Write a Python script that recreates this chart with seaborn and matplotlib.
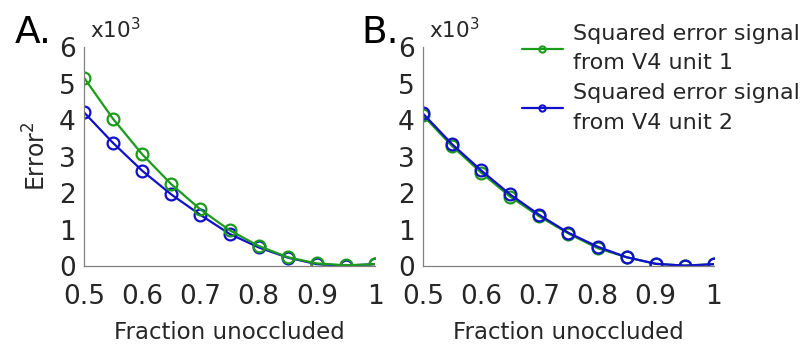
import matplotlib
matplotlib.use("Agg")
import matplotlib.pyplot as plt
from matplotlib.lines import Line2D
import pandas as pd
import seaborn as sns

# Fraction of the stimulus left unoccluded
fraction = [0.5, 0.55, 0.6, 0.65, 0.7, 0.75, 0.8, 0.85, 0.9, 0.95, 1.0]

# Squared error (x10^3), panel A
a_unit1 = [5.16, 4.03, 3.06, 2.24, 1.55, 0.98, 0.55, 0.24, 0.07, 0.02, 0.05]
a_unit2 = [4.21, 3.37, 2.61, 1.96, 1.40, 0.88, 0.51, 0.23, 0.05, 0.01, 0.05]

# Squared error (x10^3), panel B
b_unit1 = [4.13, 3.29, 2.56, 1.90, 1.36, 0.89, 0.49, 0.24, 0.06, 0.01, 0.05]
b_unit2 = [4.18, 3.34, 2.62, 1.96, 1.40, 0.91, 0.53, 0.24, 0.06, 0.01, 0.05]

x_tick_labels = ["0.5", "0.6", "0.7", "0.8", "0.9", "1"]
labels = ["Squared error signal\nfrom V4 unit 1", "Squared error signal\nfrom V4 unit 2"]
green = "#1c9a1c"
blue = "#0f0fcc"

sns.set_style("white")
plt.rcParams["font.family"] = ["DejaVu Sans"]
text_color = "#262626"


def long_frame(u1, u2):
    return pd.DataFrame({
        "fraction": fraction * 2,
        "error": u1 + u2,
        "unit": [labels[0]] * len(fraction) + [labels[1]] * len(fraction),
    })


fig = plt.figure(figsize=(8.04, 3.52), dpi=100)
ax_a = fig.add_axes([0.1045, 0.2443, 0.362, 0.622])
ax_b = fig.add_axes([0.526, 0.2443, 0.362, 0.622])

panels = [
    (ax_a, long_frame(a_unit1, a_unit2), [labels[1], labels[0]]),
    (ax_b, long_frame(b_unit1, b_unit2), [labels[0], labels[1]]),
]
palette = {labels[0]: green, labels[1]: blue}

for ax, df, order in panels:
    for lab in order:
        sub = df[df["unit"] == lab]
        sns.lineplot(data=sub, x="fraction", y="error", color=palette[lab],
                     marker="o", markersize=8.5, markerfacecolor="none",
                     markeredgecolor=palette[lab], markeredgewidth=1.6,
                     linewidth=1.6, ax=ax, legend=False)
    ax.set_xlim(0.5, 1.0)
    ax.set_ylim(0, 6)
    ax.set_xticks([0.5, 0.6, 0.7, 0.8, 0.9, 1.0])
    ax.set_xticklabels(x_tick_labels)
    ax.set_yticks([0, 1, 2, 3, 4, 5, 6])
    ax.tick_params(direction="in", length=3, width=0.8, color="#808080",
                   labelsize=19, labelcolor=text_color)
    ax.tick_params(axis="x", pad=13)
    ax.tick_params(axis="y", pad=6)
    for side in ("top", "right"):
        ax.spines[side].set_visible(False)
    for side in ("left", "bottom"):
        ax.spines[side].set_color("#808080")
        ax.spines[side].set_linewidth(0.9)
    ax.set_xlabel("Fraction unoccluded", fontsize=16.5, color=text_color, labelpad=8)
    ax.set_ylabel("")
    ax.text(0.02, 1.04, r"x10$^3$", transform=ax.transAxes, fontsize=15.5,
            color=text_color, ha="left", va="baseline")
    ax.patch.set_alpha(0)

ax_a.set_ylabel(r"Error$^2$", fontsize=17, color=text_color, labelpad=6)
fig.text(0.018, 0.878, "A.", fontsize=27, color="black", ha="left", va="baseline")
fig.text(0.450, 0.878, "B.", fontsize=27, color="black", ha="left", va="baseline")

handles = [
    Line2D([], [], color=green, linewidth=1.6, marker="o", markersize=4.5,
           markerfacecolor="none", markeredgewidth=1.5),
    Line2D([], [], color=blue, linewidth=1.6, marker="o", markersize=4.5,
           markerfacecolor="none", markeredgewidth=1.5),
]
leg = fig.legend(handles, labels, loc="upper left", bbox_to_anchor=(0.624, 0.99),
                 frameon=False, fontsize=16, handlelength=1.85, handletextpad=0.45,
                 labelspacing=0.45, labelcolor=text_color)
for t in leg.get_texts():
    t.set_linespacing(1.6)

fig.savefig("out.png", dpi=100)
